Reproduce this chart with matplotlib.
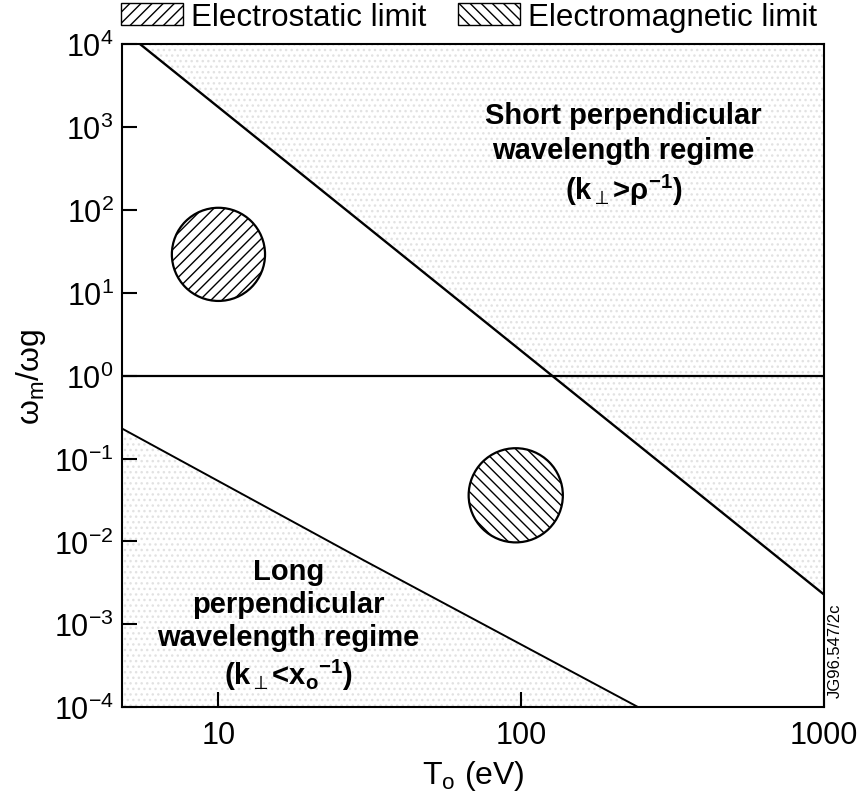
import matplotlib
matplotlib.use("Agg")
import matplotlib.pyplot as plt
from matplotlib.patches import Patch
import numpy as np

plt.rcParams['font.family'] = ['Liberation Sans', 'DejaVu Sans']
plt.rcParams['mathtext.fontset'] = 'custom'
plt.rcParams['mathtext.rm'] = 'Liberation Sans'
plt.rcParams['mathtext.it'] = 'Liberation Sans'
plt.rcParams['mathtext.bf'] = 'Liberation Sans:bold'
plt.rcParams['mathtext.default'] = 'regular'
plt.rcParams['hatch.linewidth'] = 1.0

# --- data ---
x_range = [4.8, 1000]
y_range = [1e-4, 1e4]

# boundary: short perpendicular wavelength regime (k_perp > 1/rho)
short_T = [5.5, 1000]
short_w = [1e4, 2.3e-3]

# boundary: long perpendicular wavelength regime (k_perp < 1/x_o)
long_T = [4.8, 30, 244]
long_w = [0.23, 6.0e-3, 1e-4]

# omega_m = omega_g
unity = 1.0

# operating points (circles)
es_T, es_w = 10, 29          # electrostatic limit
em_T, em_w = 96, 0.036       # electromagnetic limit

fig = plt.figure(figsize=(8.59, 8.03), dpi=100)
ax = fig.add_axes([0.142, 0.118, 0.817, 0.826])
ax.set_xscale('log')
ax.set_yscale('log')
ax.set_xlim(*x_range)
ax.set_ylim(*y_range)

# faint stippled regions
stip = dict(facecolor='none', edgecolor='#e2e2e2', hatch='...', linewidth=0, zorder=0)
Tf = np.logspace(np.log10(short_T[0]), np.log10(short_T[1]), 50)
wf = np.exp(np.interp(np.log(Tf), np.log(short_T), np.log(short_w)))
ax.fill_between(Tf, wf, y_range[1], **stip)
ax.fill_between(long_T, y_range[0], long_w, **stip)

ax.plot(short_T, short_w, color='black', lw=1.7)
ax.plot(long_T, long_w, color='black', lw=1.4)
ax.axhline(unity, color='black', lw=1.6)

ax.scatter([es_T], [es_w], s=4500, facecolor='white', edgecolor='black',
           linewidths=1.6, hatch='///', zorder=3)
ax.scatter([em_T], [em_w], s=4600, facecolor='white', edgecolor='black',
           linewidths=1.6, hatch='\\\\\\', zorder=3)

ax.text(218, 470, 'Short perpendicular\nwavelength regime\n(k$_\\perp$>ρ$^{-1}$)',
        ha='center', va='center', fontsize=21, fontweight='bold', linespacing=1.3)
ax.text(17, 1.0e-3, 'Long\nperpendicular\nwavelength regime\n(k$_\\perp$<x$_o$$^{-1}$)',
        ha='center', va='center', fontsize=21, fontweight='bold', linespacing=1.22)

ax.set_xticks([10, 100, 1000])
ax.set_xticklabels(['10', '100', '1000'])
ax.set_yticks([10.0 ** k for k in range(-4, 5)])
ax.minorticks_off()
ax.tick_params(axis='both', direction='in', length=11, width=1.5,
               labelsize=22, top=False, right=False)
ax.tick_params(axis='y', pad=6)
ax.tick_params(axis='x', pad=9)
for s in ax.spines.values():
    s.set_linewidth(1.5)

ax.set_xlabel('T$_o$ (eV)', fontsize=23, labelpad=6)
ax.set_ylabel('ω$_m$/ωg', fontsize=23, labelpad=4)

handles = [Patch(facecolor='white', edgecolor='black', hatch='///', label='Electrostatic limit'),
           Patch(facecolor='white', edgecolor='black', hatch='\\\\\\', label='Electromagnetic limit')]
fig.legend(handles=handles, loc='upper center', bbox_to_anchor=(0.546, 1.0), ncol=2,
           frameon=False, fontsize=22.5, handlelength=2.0, handleheight=0.7,
           columnspacing=1.0, handletextpad=0.25, borderpad=0.1, borderaxespad=0)

fig.text(0.972, 0.19, 'JG96.547/2c', rotation=90, fontsize=12, ha='center', va='center')

fig.savefig('out.png', dpi=100)
